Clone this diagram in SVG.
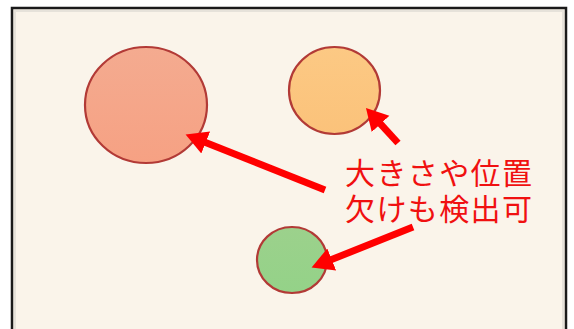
<svg xmlns="http://www.w3.org/2000/svg" width="574" height="329" viewBox="0 0 574 329">
  <style>
    .node { stroke: #b23a36; stroke-width: 2.2; }
    .conn { stroke: #ff0000; stroke-width: 7; fill: none; marker-end: url(#head); }
    .label { font-family: "Noto Sans CJK JP", "Noto Sans CJK SC", sans-serif; font-size: 30px; fill: #f01010; }
  </style>
  <defs>
    <marker id="head" markerUnits="userSpaceOnUse" markerWidth="24" markerHeight="26" viewBox="0 -12 22 24" refX="2" refY="0" orient="auto">
      <path d="M0,-11 L20,0 L0,11 Z" fill="#ff0000"/>
    </marker>
    <linearGradient id="gRed" x1="0" y1="0" x2="0" y2="1">
      <stop offset="0" stop-color="#f4ab90"/>
      <stop offset="1" stop-color="#f6a183"/>
    </linearGradient>
    <linearGradient id="gOrange" x1="0" y1="0" x2="0" y2="1">
      <stop offset="0" stop-color="#fcc984"/>
      <stop offset="1" stop-color="#fbc27a"/>
    </linearGradient>
    <linearGradient id="gGreen" x1="0" y1="0" x2="0" y2="1">
      <stop offset="0" stop-color="#9cd18c"/>
      <stop offset="1" stop-color="#94d288"/>
    </linearGradient>
  </defs>
  <rect x="0" y="0" width="574" height="329" fill="#ffffff"/>
  <rect x="12" y="8" width="554" height="330" fill="#faf4ea" stroke="#1a1a1a" stroke-width="2.5"/>
  <rect x="15" y="11" width="548" height="325" fill="none" stroke="#e6e2da" stroke-width="2"/>

  <g id="circle-large">
    <ellipse class="node" cx="146" cy="105" rx="61" ry="58" fill="url(#gRed)"/>
  </g>
  <g id="circle-medium">
    <ellipse class="node" cx="334.5" cy="90.5" rx="45.5" ry="43.5" fill="url(#gOrange)"/>
  </g>
  <g id="circle-small">
    <ellipse class="node" cx="292" cy="260" rx="35" ry="33" fill="url(#gGreen)"/>
  </g>

  <g id="connectors">
    <line class="conn" x1="325" y1="190" x2="203.7" y2="141.7"/>
    <line class="conn" x1="398" y1="143" x2="379.1" y2="122.3"/>
    <line class="conn" x1="413" y1="227" x2="329.7" y2="260.3"/>
  </g>

  <g id="label">
    <text class="label" x="345" y="184" textLength="187" lengthAdjust="spacing">大きさや位置</text>
    <text class="label" x="345" y="220" textLength="187" lengthAdjust="spacing">欠けも検出可</text>
  </g>
</svg>
